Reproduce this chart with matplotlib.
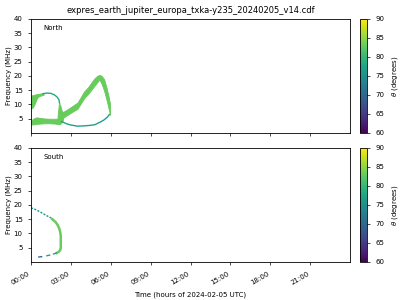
import matplotlib
matplotlib.use("Agg")
import matplotlib.pyplot as plt
from matplotlib import cm, colors

TITLE = "expres_earth_jupiter_europa_txka-y235_20240205_v14.cdf"
XLABEL = "Time (hours of 2024-02-05 UTC)"
HOUR_TICKS = [0, 3, 6, 9, 12, 15, 18, 21]
HOUR_LABELS = ["00:00", "03:00", "06:00", "09:00", "12:00", "15:00", "18:00", "21:00"]
FREQ_TICKS = [5, 10, 15, 20, 25, 30, 35, 40]

# North hemisphere emission (time in hours, frequency in MHz, theta in degrees)
n_upper_t = [0.0, 0.15, 0.3, 0.45, 0.6, 0.8, 0.95]
n_upper_lo = [8.6, 9.0, 10.5, 12.2, 12.9, 13.2, 13.4]
n_upper_hi = [13.2, 13.3, 13.5, 13.7, 13.8, 13.9, 14.0]
n_upper_theta = 83

n_arc_t = [0.9, 1.2, 1.5, 1.75, 1.95, 2.1, 2.15]
n_arc_f = [13.8, 14.0, 13.9, 13.4, 12.7, 11.7, 10.5]
n_arc_theta = 78

n_lower_t = [0.0, 0.2, 0.4, 0.7, 1.0, 1.4, 1.8, 2.1]
n_lower_lo = [3.0, 3.0, 3.2, 3.3, 3.4, 3.4, 3.3, 3.1]
n_lower_hi = [4.4, 5.1, 5.5, 5.3, 5.1, 5.0, 5.0, 5.1]
n_lower_theta = 83

n_join_t = [2.0, 2.1, 2.2, 2.3, 2.4]
n_join_lo = [3.3, 3.1, 3.2, 3.7, 4.5]
n_join_hi = [6.0, 10.5, 9.8, 8.0, 7.2]
n_join_theta = 83

n_rise_t = [2.3, 2.6, 3.0, 3.5, 4.0, 4.3, 4.6, 4.8, 5.0, 5.15, 5.3, 5.5, 5.7, 5.85, 5.95]
n_rise_lo = [4.9, 5.9, 7.1, 8.5, 12.2, 13.7, 15.5, 16.7, 17.9, 18.7, 17.4, 14.8, 11.3, 8.3, 6.4]
n_rise_hi = [7.1, 7.9, 9.1, 10.7, 14.6, 16.1, 18.1, 19.3, 20.1, 20.4, 20.1, 18.9, 15.6, 12.6, 10.1]
n_rise_theta = 83

n_bottom_t = [2.3, 2.7, 3.0, 3.5, 4.0, 4.5, 4.8, 5.2, 5.5, 5.75, 5.9]
n_bottom_f = [4.0, 3.2, 2.8, 2.4, 2.5, 2.7, 2.9, 3.8, 4.6, 5.6, 6.5]
n_bottom_theta = 77

# South hemisphere emission
s_top_t = [0.0, 0.3, 0.6, 0.9, 1.2, 1.5, 1.7]
s_top_f = [19.0, 18.5, 17.8, 17.0, 16.2, 15.5, 14.8]
s_top_theta = 76

s_mid_t = [1.6, 1.85, 2.0, 2.12, 2.2, 2.24, 2.24, 2.2, 2.1, 1.95]
s_mid_f = [15.0, 14.0, 13.0, 11.8, 10.5, 9.0, 5.0, 4.2, 3.6, 3.2]
s_mid_theta = 83

s_low_t = [1.95, 1.7, 1.4, 1.1]
s_low_f = [3.2, 2.8, 2.4, 2.1]
s_low_theta = 77

s_tail_t = [0.85, 0.5]
s_tail_f = [1.9, 1.7]
s_tail_theta = 70

norm = colors.Normalize(vmin=60, vmax=90)
cmap = plt.get_cmap("viridis")


def col(theta):
    return cmap(norm(theta))


plt.rcParams["font.size"] = 5

fig = plt.figure(figsize=(4, 3), dpi=100)
ax_n = fig.add_axes([0.0775, 0.5567, 0.7975, 0.38])
ax_s = fig.add_axes([0.0775, 0.1267, 0.7975, 0.38])
cax_n = fig.add_axes([0.9, 0.5567, 0.0175, 0.38])
cax_s = fig.add_axes([0.9, 0.1267, 0.0175, 0.38])

# north
ax_n.fill_between(n_upper_t, n_upper_lo, n_upper_hi, color=col(n_upper_theta), lw=0.6)
ax_n.plot(n_arc_t, n_arc_f, color=col(n_arc_theta), lw=1.0)
ax_n.fill_between(n_lower_t, n_lower_lo, n_lower_hi, color=col(n_lower_theta), lw=0.6)
ax_n.fill_between(n_join_t, n_join_lo, n_join_hi, color=col(n_join_theta), lw=0.6)
ax_n.fill_between(n_rise_t, n_rise_lo, n_rise_hi, color=col(n_rise_theta), lw=0.6)
ax_n.plot(n_bottom_t, n_bottom_f, color=col(n_bottom_theta), lw=1.0)

# south
ax_s.plot(s_top_t, s_top_f, color=col(s_top_theta), lw=1.0, ls=(0, (1.5, 1)))
ax_s.plot(s_mid_t, s_mid_f, color=col(s_mid_theta), lw=1.8)
ax_s.plot(s_low_t, s_low_f, color=col(s_low_theta), lw=1.0, ls=(0, (3, 2)))
ax_s.plot(s_tail_t, s_tail_f, color=col(s_tail_theta), lw=1.0, ls=(0, (3, 3)))

for ax, name in [(ax_n, "North"), (ax_s, "South")]:
    ax.set_xlim(0, 24)
    ax.set_ylim(0, 40)
    ax.set_xticks(HOUR_TICKS)
    ax.set_yticks(FREQ_TICKS)
    ax.set_ylabel("Frequency (MHz)", fontsize=5, labelpad=1)
    ax.tick_params(labelsize=5, length=2.5, width=0.5)
    for s in ax.spines.values():
        s.set_linewidth(0.6)
    ax.text(0.04, 0.9, name, transform=ax.transAxes, fontsize=5)

ax_n.set_xticklabels([])
ax_s.set_xticklabels(HOUR_LABELS, rotation=30, ha="right")
ax_s.set_xlabel(XLABEL, fontsize=5)
ax_n.set_title(TITLE, fontsize=6, pad=4)

for cax in (cax_n, cax_s):
    cb = fig.colorbar(cm.ScalarMappable(norm=norm, cmap=cmap), cax=cax)
    cb.set_ticks([60, 65, 70, 75, 80, 85, 90])
    cb.set_label(r"$\theta$ (degrees)", fontsize=5)
    cb.ax.tick_params(labelsize=5, length=2.5, width=0.5)
    cb.outline.set_linewidth(0.6)

fig.savefig("out.png", dpi=100)
